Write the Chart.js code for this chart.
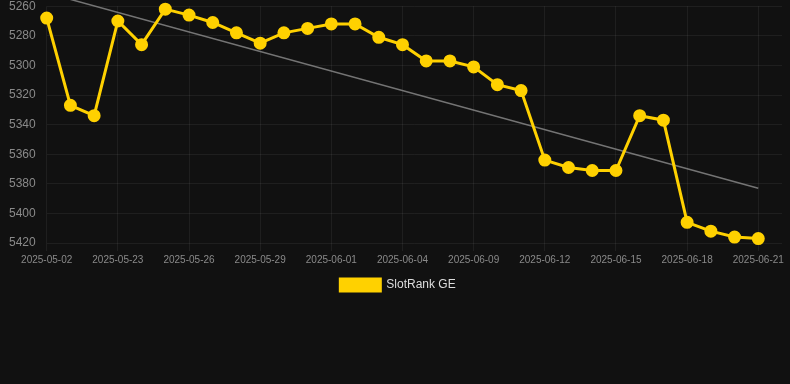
<!DOCTYPE html>
<html>
<head>
<meta charset="utf-8">
<script src="https://cdn.jsdelivr.net/npm/chart.js@4/dist/chart.umd.min.js"></script>
<style>
  html, body { margin: 0; padding: 0; background: #111111; overflow: hidden; }
  #wrap { width: 790px; height: 305px; position: relative; margin-top: -4px; }
</style>
</head>
<body>
<div id="wrap"><canvas id="chart"></canvas></div>
<script>
// dates on the x axis (only every 3rd one is shown by autoskip)
const labels = [
  "2025-05-02", "2025-05-21", "2025-05-22", "2025-05-23", "2025-05-24", "2025-05-25",
  "2025-05-26", "2025-05-27", "2025-05-28", "2025-05-29", "2025-05-30", "2025-05-31",
  "2025-06-01", "2025-06-02", "2025-06-03", "2025-06-04", "2025-06-06", "2025-06-08",
  "2025-06-09", "2025-06-10", "2025-06-11", "2025-06-12", "2025-06-13", "2025-06-14",
  "2025-06-15", "2025-06-16", "2025-06-17", "2025-06-18", "2025-06-19", "2025-06-20",
  "2025-06-21", "2025-06-22"
];

// rank values
const rankGE = [
  5268, 5327, 5334, 5270, 5286, 5262, 5266, 5271, 5278, 5285, 5278, 5275,
  5272, 5272, 5281, 5286, 5297, 5297, 5301, 5313, 5317, 5364, 5369, 5371,
  5371, 5334, 5337, 5406, 5412, 5416, 5417
];

// trend line: only the two ends, the rest is spanned
const trend = [5251];
for (let i = 1; i < 30; i++) trend.push(null);
trend.push(5383);

const yMin = 5260;
const yMax = 5420;
const yStep = 20;

const gridColor = "rgba(255,255,255,0.06)";
const tickColor = "#8a8a8a";
const yellow = "#FFD100";

Chart.defaults.font.family = "Arial, 'Liberation Sans', sans-serif";

new Chart(document.getElementById("chart"), {
  type: "line",
  data: {
    labels: labels,
    datasets: [
      {
        label: "SlotRank GE",
        data: rankGE,
        borderColor: yellow,
        backgroundColor: yellow,
        borderWidth: 3,
        pointRadius: 5,
        pointBackgroundColor: yellow,
        pointBorderColor: yellow,
        tension: 0,
        clip: false
      },
      {
        label: "trend",
        data: trend,
        borderColor: "rgba(150,150,150,0.75)",
        borderWidth: 1.5,
        pointRadius: 0,
        spanGaps: true,
        clip: false
      }
    ]
  },
  options: {
    responsive: true,
    maintainAspectRatio: false,
    animation: false,
    layout: { padding: { left: 6, right: 0 } },
    plugins: {
      legend: {
        position: "bottom",
        labels: {
          color: "#dddddd",
          font: { size: 12 },
          boxWidth: 40,
          filter: item => item.text === "SlotRank GE"
        }
      },
      tooltip: { enabled: false }
    },
    scales: {
      x: {
        grid: { color: gridColor, tickColor: gridColor },
        border: { display: false },
        ticks: { color: tickColor, font: { size: 10 }, maxRotation: 0, autoSkip: true }
      },
      y: {
        reverse: true,
        min: yMin,
        max: yMax,
        grid: { color: gridColor, tickColor: "transparent" },
        border: { display: false },
        ticks: {
          color: tickColor,
          font: { size: 12 },
          stepSize: yStep,
          callback: v => String(v)
        }
      }
    }
  }
});
</script>
</body>
</html>
